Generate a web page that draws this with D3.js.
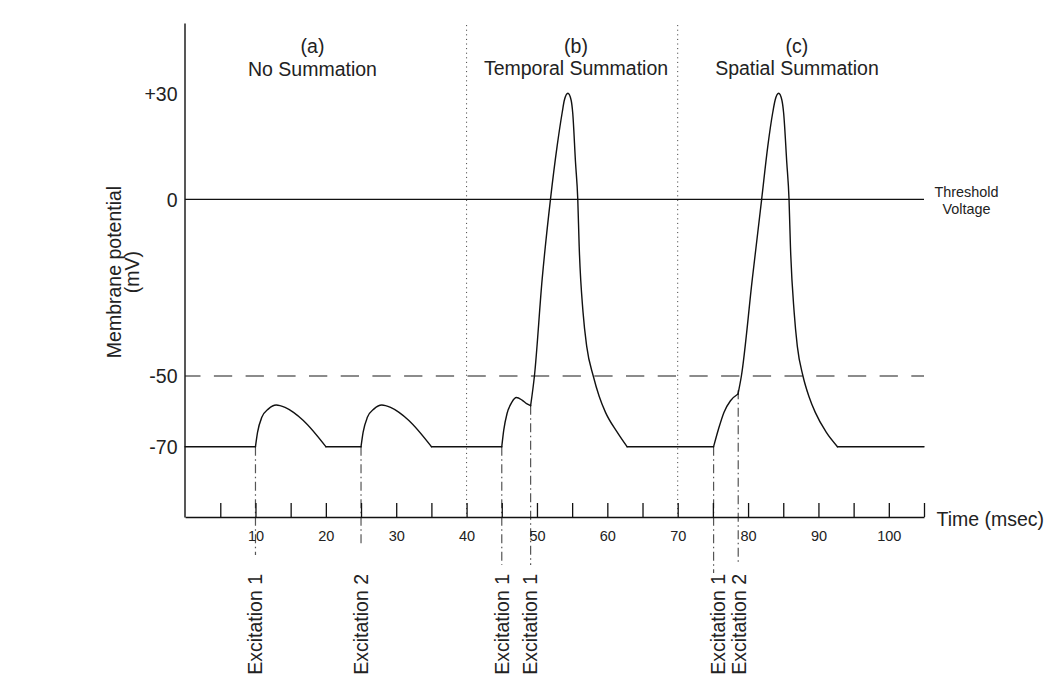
<!DOCTYPE html>
<html><head><meta charset="utf-8">
<script src="https://cdn.jsdelivr.net/npm/d3@7"></script>
<style>
html,body{margin:0;padding:0;background:#fff;}
svg{display:block;font-family:"Liberation Sans",Arial,Helvetica,sans-serif;}
</style></head><body>
<svg id="chart" width="1044" height="682"></svg>
<script>
// ---------- data ----------
const restPotential = -70;
const thresholdPotential = -50;
const zeroPotential = 0;
const yTickValues = [30, 0, -50, -70];
const yTickLabels = ["+30", "0", "-50", "-70"];
const xTickValues = [5, 10, 15, 20, 25, 30, 35, 40, 45, 50, 55, 60, 65, 70, 75, 80, 85, 90, 95, 100, 105];
const xLabelledTicks = [10, 20, 30, 40, 50, 60, 70, 80, 90, 100];
const panelLetters = ["(a)", "(b)", "(c)"];
const panelTitles = ["No Summation", "Temporal Summation", "Spatial Summation"];
const panelCenters = [18.1, 55.55, 86.95];
const panelDividers = [40, 70];

// trace pieces [time ms, potential mV]
const epspA1 = [[10,-70],[10.3,-65.9],[10.9,-61.7],[11.85,-59.3],[12.95,-58.2],[14.2,-58.9],[15.4,-60.3],[16.8,-62.6],[20,-70]];
const epspA2 = [[25,-70],[25.3,-65.9],[25.9,-61.7],[26.85,-59.3],[27.95,-58.2],[29.2,-58.9],[30.4,-60.3],[31.8,-62.6],[35,-70]];
const humpB  = [[45,-70],[45.28,-65.3],[45.75,-60.6],[46.46,-57.3],[47.07,-56.1],[47.88,-56.8],[48.59,-57.9],[49.1,-58.4]];
const spikeB = [[49.1,-58.4],[49.64,-50],[50.74,-22.6],[51.92,0],[52.87,15.1],[53.58,24.5],[53.9,28.1],[54.4,30],[54.85,28.1],[55.08,24.5],[55.48,10.4],[55.8,0],[56.0,-13.3],[56.55,-32],[57.07,-41.6],[58.0,-50],[58.85,-55.8],[59.74,-60.3],[61.4,-65.9],[62.8,-70]];
const riseC  = [[75.1,-70],[75.8,-65],[76.57,-60.3],[77.5,-57],[78.57,-55.1]];
const spikeC = [[78.57,-55.1],[79.05,-50],[80.6,-22.6],[81.93,0],[82.8,15],[83.5,24.5],[83.85,28.1],[84.35,30],[84.8,28.1],[85.05,24.5],[85.5,10.4],[85.82,0],[86.02,-13.3],[86.55,-32],[87.0,-41.6],[87.8,-50],[88.65,-55.8],[89.55,-60.3],[91.1,-65.9],[92.7,-70]];
const traceSegments = [epspA1, epspA2, humpB, spikeB, riseC, spikeC];

const excitationTimes  = [10, 25, 45, 49.1, 75.1, 78.6];
const excitationLevels = [-70, -70, -70, -58.4, -70, -54];
const excitationLabels = ["Excitation 1", "Excitation 2", "Excitation 1", "Excitation 1", "Excitation 1", "Excitation 2"];
const excitationLabelTimes = [10, 25, 45, 49.1, 75.8, 78.8];

// ---------- layout ----------
const markerBottoms = [555, 545, 565, 565, 573, 565];
const svg = d3.select("#chart");
const x = d3.scaleLinear().domain([0, 105]).range([185.1, 924]);
const y = d3.scaleLinear().domain([-89.9, 49.9]).range([517, 23]);
const FS = 19.5;

// panel dividers (dotted)
svg.append("g").selectAll("line").data(panelDividers).join("line")
  .attr("x1", d => x(d)).attr("x2", d => x(d))
  .attr("y1", y(49.3)).attr("y2", y(-89.9))
  .attr("stroke", "#333").attr("stroke-width", 1).attr("stroke-dasharray", "1,3.6");

// zero line
svg.append("line").attr("x1", x(0)).attr("x2", x(105))
  .attr("y1", y(zeroPotential)).attr("y2", y(zeroPotential))
  .attr("stroke", "#111").attr("stroke-width", 1.2);

// threshold dashed line
svg.append("line").attr("x1", x(0)).attr("x2", x(105))
  .attr("y1", y(thresholdPotential)).attr("y2", y(thresholdPotential))
  .attr("stroke", "#666").attr("stroke-width", 1.6)
  .attr("stroke-dasharray", "18.3,13.4").attr("stroke-dashoffset", 2.9);

// excitation dash-dot markers
svg.append("g").selectAll("line").data(excitationTimes).join("line")
  .attr("x1", d => x(d)).attr("x2", d => x(d))
  .attr("y1", (d, i) => y(excitationLevels[i])).attr("y2", (d, i) => markerBottoms[i])
  .attr("stroke", "#555").attr("stroke-width", 1.2)
  .attr("stroke-dasharray", "9,3.5,1.5,3.5");

// x axis
const xAxis = d3.axisBottom(x).tickValues(xTickValues)
  .tickSizeInner(-14).tickSizeOuter(0).tickPadding(14)
  .tickFormat(d => xLabelledTicks.includes(d) ? String(d) : "");
const gx = svg.append("g").attr("transform", `translate(0,${y(-89.9)})`).call(xAxis);
gx.select(".domain").attr("stroke", "#111").attr("stroke-width", 1.4);
gx.selectAll(".tick line").attr("stroke", "#111").attr("stroke-width", 1.3);
gx.selectAll(".tick text").attr("font-size", 14.5).attr("fill", "#222")
  .attr("font-family", '"Liberation Sans",Arial,sans-serif');

// y axis
const yAxis = d3.axisLeft(y).tickValues(yTickValues).tickSize(0).tickPadding(7)
  .tickFormat(d => yTickLabels[yTickValues.indexOf(d)]);
const gy = svg.append("g").attr("transform", `translate(${x(0) - 0.6},0)`).call(yAxis);
gy.select(".domain").attr("stroke", "#111").attr("stroke-width", 1.4);
gy.selectAll(".tick text").attr("font-size", FS).attr("fill", "#222")
  .attr("font-family", '"Liberation Sans",Arial,sans-serif').attr("dy", "0.35em");

// trace
const curveLine = d3.line().x(d => x(d[0])).y(d => y(d[1])).curve(d3.curveMonotoneX);
const straight = d3.line().x(d => x(d[0])).y(d => y(d[1]));
const gt = svg.append("g").attr("fill", "none").attr("stroke", "#111").attr("stroke-width", 1.4)
  .attr("stroke-linejoin", "round").attr("stroke-linecap", "round");
gt.selectAll("path.seg").data(traceSegments).join("path").attr("class", "seg").attr("d", curveLine);
// baseline (resting potential) pieces between segments
const restPieces = [];
let prevT = 0;
traceSegments.forEach(seg => {
  const st = seg[0][0];
  if (st > prevT && seg[0][1] === restPotential) restPieces.push([[prevT, restPotential], [st, restPotential]]);
  const last = seg[seg.length - 1];
  prevT = last[1] === restPotential ? last[0] : prevT;
});
restPieces.push([[prevT, restPotential], [105, restPotential]]);
gt.selectAll("path.rest").data(restPieces).join("path").attr("class", "rest").attr("d", straight);

// panel titles
const gTitle = svg.append("g").attr("font-size", FS).attr("fill", "#222").attr("text-anchor", "middle");
gTitle.selectAll("text.letter").data(panelLetters).join("text").attr("class", "letter")
  .attr("x", (d, i) => x(panelCenters[i])).attr("y", 52.5).text(d => d);
gTitle.selectAll("text.title").data(panelTitles).join("text").attr("class", "title")
  .attr("x", (d, i) => x(panelCenters[i])).attr("y", (d, i) => i === 0 ? 76 : 74.5).text(d => d);

// y label
const yl = svg.append("g").attr("transform", `translate(0,272) rotate(-90)`)
  .attr("font-size", FS).attr("fill", "#222").attr("text-anchor", "middle");
yl.append("text").attr("x", 0).attr("y", 121).text("Membrane potential");
yl.append("text").attr("x", 0).attr("y", 138.5).text("(mV)");

// threshold label
const tl = svg.append("g").attr("font-size", 14.4).attr("fill", "#222").attr("text-anchor", "middle");
tl.append("text").attr("x", 966.5).attr("y", 197).text("Threshold");
tl.append("text").attr("x", 966.5).attr("y", 213.5).text("Voltage");

// time label
svg.append("text").attr("x", 936.5).attr("y", 526).attr("font-size", FS).attr("fill", "#222").text("Time (msec)");

// excitation labels
svg.append("g").selectAll("text").data(excitationLabels).join("text")
  .attr("transform", (d, i) => `translate(${x(excitationLabelTimes[i])},574) rotate(-90)`)
  .attr("text-anchor", "end").attr("dy", "0.35em")
  .attr("font-size", FS).attr("fill", "#222").text(d => d);
</script>
</body></html>
